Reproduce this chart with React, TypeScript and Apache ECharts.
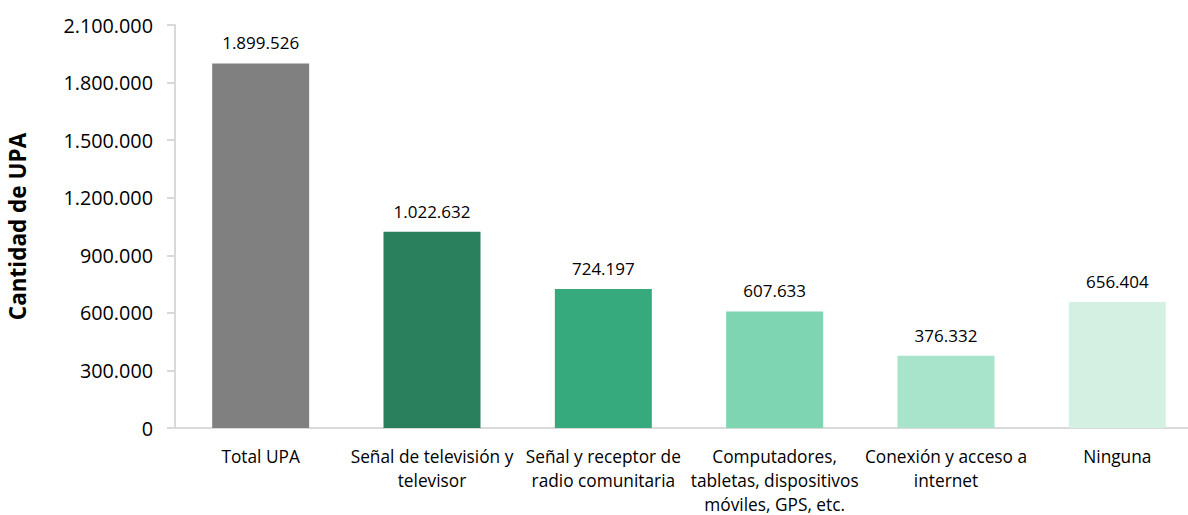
import React, { useEffect, useRef } from "react";
import * as echarts from "echarts";

const categories = [
  "Total UPA",
  "Señal de televisión y\ntelevisor",
  "Señal y receptor de\nradio comunitaria",
  "Computadores,\ntabletas, dispositivos\nmóviles, GPS, etc.",
  "Conexión y acceso a\ninternet",
  "Ninguna",
];
const values = [1899526, 1022632, 724197, 607633, 376332, 656404];
const barColors = ["#808080", "#2a7f5d", "#37aa7d", "#7dd5b1", "#a8e4cb", "#d4f0e3"];
const yTicks = { min: 0, max: 2100000, interval: 300000 };
const yTitle = "Cantidad de UPA";

const fmt = (v: number) => String(Math.round(v)).replace(/\B(?=(\d{3})+(?!\d))/g, ".");

export default function App() {
  const ref = useRef<HTMLDivElement>(null);
  useEffect(() => {
    if (!ref.current) return;
    const chart = echarts.init(ref.current, null, { renderer: "svg" });
    const font = "'Open Sans', 'Noto Sans', sans-serif";
    chart.setOption({
      animation: false,
      textStyle: { fontFamily: font },
      grid: { left: 175, top: 25, width: 1028, height: 403, containLabel: false, outerBoundsMode: "none" },
      xAxis: {
        type: "category",
        data: categories,
        axisLine: { show: true, lineStyle: { color: "#d9d9d9", width: 2 } },
        axisTick: { show: false },
        axisLabel: { color: "#000", fontSize: 17.3, lineHeight: 24, margin: 16, fontFamily: font, interval: 0 },
      },
      yAxis: {
        type: "value",
        min: yTicks.min,
        max: yTicks.max,
        interval: yTicks.interval,
        name: yTitle,
        nameLocation: "middle",
        nameGap: 146,
        nameTextStyle: { fontSize: 22.5, fontWeight: "bold", color: "#000", fontFamily: font },
        axisLine: { show: true, lineStyle: { color: "#d9d9d9", width: 2 } },
        axisTick: { show: true, length: 8, lineStyle: { color: "#d9d9d9", width: 2 } },
        splitLine: { show: false },
        axisLabel: { color: "#000", fontSize: 19.8, margin: 22, fontFamily: font, formatter: (v: number) => fmt(v) },
      },
      series: [
        {
          type: "bar",
          data: values.map((v, i) => ({ value: v, itemStyle: { color: barColors[i] } })),
          barWidth: 97,
          label: {
            show: true,
            position: "top",
            distance: 12,
            color: "#000",
            fontSize: 17,
            fontFamily: font,
            formatter: (p: any) => fmt(p.value),
          },
        },
      ],
    });
    return () => chart.dispose();
  }, []);
  return <div ref={ref} style={{ position: "absolute", left: 0, top: 0, width: 1188, height: 515 }} />;
}
